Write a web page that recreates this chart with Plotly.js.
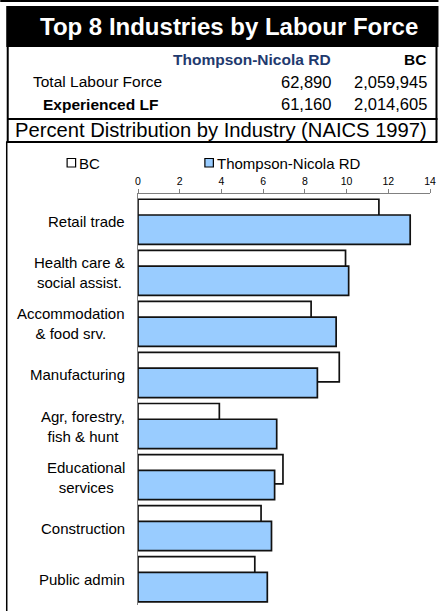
<!DOCTYPE html>
<html>
<head>
<meta charset="utf-8">
<script src="https://cdn.plot.ly/plotly-3.0.1.min.js"></script>
<style>html,body{margin:0;padding:0;background:#fff;}#chart{width:439px;height:611px;}</style>
</head>
<body>
<div id="chart"></div>
<script>
// ---- data ----
var industries = ["Retail trade", "Health care &<br>social assist.", "Accommodation<br>& food srv.", "Manufacturing",
                  "Agr, forestry,<br>fish & hunt", "Educational<br>services", "Construction", "Public admin"];
var bcValues = [11.55, 9.95, 8.3, 9.65, 3.9, 6.95, 5.9, 5.6];
var tnValues = [13.05, 10.1, 9.5, 8.6, 6.65, 6.55, 6.4, 6.2];
var seriesNames = ["BC", "Thompson-Nicola RD"];
var xTicks = [0, 2, 4, 6, 8, 10, 12, 14];
var headerTitle = "Top 8 Industries by Labour Force";
var regionName = "Thompson-Nicola RD";
var provName = "BC";
var rowLabels = ["Total Labour Force", "Experienced LF"];
var regionCounts = ["62,890", "61,160"];
var provCounts = ["2,059,945", "2,014,605"];
var subTitle = "Percent Distribution by Industry (NAICS 1997)";

// ---- layout geometry ----
var W = 439, H = 611, L = 138, R = 8.5, T = 194, B = 6;
function px(x) { return (x - L) / (W - L - R); }
function py(y) { return 1 - (y - T) / (H - T - B); }
var FONT = "Liberation Sans, Arial, sans-serif";
var colors = ["#FFFFFF", "#99CCFF"];

var traces = [
  {type: "bar", orientation: "h", name: seriesNames[0], y: industries, x: bcValues,
   width: 0.575, offset: -0.441, marker: {color: colors[0], line: {color: "#111", width: 1.7}},
   hoverinfo: "x+y", showlegend: false},
  {type: "bar", orientation: "h", name: seriesNames[1], y: industries, x: tnValues,
   width: 0.575, offset: -0.133, marker: {color: colors[1], line: {color: "#111", width: 1.7}},
   hoverinfo: "x+y", showlegend: false}
];

var shapes = [
  {type: "line", xref: "paper", yref: "paper", x0: px(0), x1: px(439), y0: py(1), y1: py(1), line: {color: "#000", width: 2}},
  {type: "rect", xref: "paper", yref: "paper", x0: px(6), x1: px(439), y0: py(6), y1: py(47), fillcolor: "#000", line: {width: 0}},
  {type: "line", xref: "paper", yref: "paper", x0: px(7.5), x1: px(7.5), y0: py(47), y1: py(142), line: {color: "#000", width: 2}},
  {type: "line", xref: "paper", yref: "paper", x0: px(437), x1: px(437), y0: py(47), y1: py(142), line: {color: "#000", width: 2}},
  {type: "line", xref: "paper", yref: "paper", x0: px(7), x1: px(438), y0: py(119), y1: py(119), line: {color: "#000", width: 2}},
  {type: "line", xref: "paper", yref: "paper", x0: px(6), x1: px(438), y0: py(142), y1: py(142), line: {color: "#000", width: 2}},
  {type: "line", xref: "paper", yref: "paper", x0: px(6.5), x1: px(6.5), y0: py(142), y1: py(611), line: {color: "#000", width: 1.5}},
  {type: "rect", xref: "paper", yref: "paper", x0: px(67), x1: px(75.5), y0: py(158.5), y1: py(167), fillcolor: colors[0], line: {color: "#000", width: 1.2}},
  {type: "rect", xref: "paper", yref: "paper", x0: px(205), x1: px(213.5), y0: py(158.5), y1: py(167), fillcolor: colors[1], line: {color: "#000", width: 1.2}}
];

var annotations = [
  {text: "<b>" + headerTitle + "</b>", x: px(229), y: py(27), font: {family: FONT, size: 24, color: "#fff"}},
  {text: "<b>" + regionName + "</b>", x: px(333), y: py(60), xanchor: "right", font: {family: FONT, size: 15.5, color: "#1F3A6E"}},
  {text: "<b>" + provName + "</b>", x: px(428), y: py(60), xanchor: "right", font: {family: FONT, size: 15.5, color: "#000"}},
  {text: rowLabels[0], x: px(97), y: py(82), font: {family: FONT, size: 15.5, color: "#000"}},
  {text: "<b>" + rowLabels[1] + "</b>", x: px(100), y: py(104), font: {family: FONT, size: 15.5, color: "#000"}},
  {text: regionCounts[0], x: px(333), y: py(82), xanchor: "right", font: {family: FONT, size: 16.5, color: "#000"}},
  {text: regionCounts[1], x: px(333), y: py(104), xanchor: "right", font: {family: FONT, size: 16.5, color: "#000"}},
  {text: provCounts[0], x: px(429), y: py(82), xanchor: "right", font: {family: FONT, size: 16.5, color: "#000"}},
  {text: provCounts[1], x: px(429), y: py(104), xanchor: "right", font: {family: FONT, size: 16.5, color: "#000"}},
  {text: subTitle, x: px(221), y: py(130), font: {family: FONT, size: 20.2, color: "#000"}},
  {text: seriesNames[0], x: px(76.5), y: py(163), xanchor: "left", font: {family: FONT, size: 15, color: "#000"}},
  {text: seriesNames[1], x: px(215), y: py(163), xanchor: "left", font: {family: FONT, size: 15, color: "#000"}}
];
annotations.forEach(function (a) {
  a.xref = "paper"; a.yref = "paper"; a.showarrow = false;
  if (!a.xanchor) a.xanchor = "center";
  a.yanchor = "middle";
});
// category labels: centred lines, block right-aligned against the axis
industries.forEach(function (name) {
  annotations.push({text: name, xref: "paper", yref: "y", x: px(127), y: name, xanchor: "right", yanchor: "middle",
                    align: "center", showarrow: false, font: {family: FONT, size: 15, color: "#000"}});
});

var layout = {
  width: W, height: H,
  margin: {l: L, r: R, t: T, b: B, pad: 0},
  paper_bgcolor: "#fff", plot_bgcolor: "#fff",
  barmode: "overlay",
  showlegend: false,
  font: {family: FONT, color: "#000"},
  xaxis: {side: "top", range: [0, 14], tickvals: xTicks, ticktext: xTicks.map(String),
          ticks: "outside", ticklen: 4, tickcolor: "#808080", tickwidth: 1,
          showline: true, linecolor: "#808080", linewidth: 1, showgrid: false, zeroline: false,
          tickfont: {family: FONT, size: 10.5, color: "#000"}, fixedrange: true},
  yaxis: {type: "category", categoryorder: "array", categoryarray: industries,
          range: [7.505, -0.544], showline: true, linecolor: "#808080", linewidth: 1,
          ticks: "", showgrid: false, zeroline: false, showticklabels: false, fixedrange: true},
  shapes: shapes,
  annotations: annotations
};

Plotly.newPlot("chart", traces, layout, {displayModeBar: false, staticPlot: true});
</script>
</body>
</html>
